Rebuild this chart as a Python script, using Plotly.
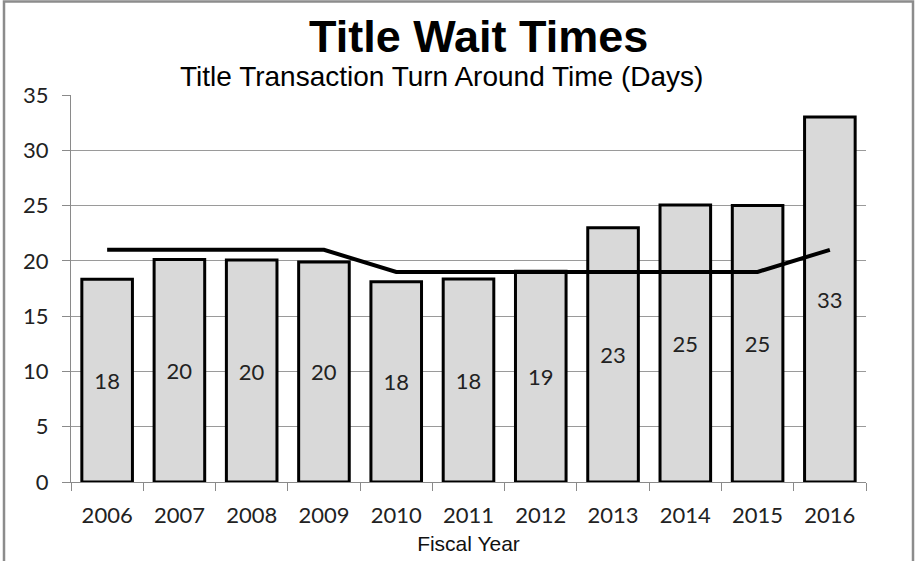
import plotly.graph_objects as go

years = ["2006", "2007", "2008", "2009", "2010", "2011", "2012", "2013", "2014", "2015", "2016"]
wait_days = [18.33, 20.13, 20.07, 19.9, 18.1, 18.35, 19.05, 23.0, 25.05, 25.0, 33.0]
goal_days = [21, 21, 21, 21, 19, 19, 19, 19, 19, 19, 21]
y_ticks = [0, 5, 10, 15, 20, 25, 30, 35]

title_text = "Title Wait Times"
subtitle_text = "Title Transaction Turn Around Time (Days)"
x_title = "Fiscal Year"

fig = go.Figure()
fig.add_trace(go.Bar(
    x=years, y=wait_days,
    marker=dict(color="#d9d9d9", line=dict(color="black", width=3)),
    texttemplate="%{y:.0f}", textposition="inside", insidetextanchor="middle",
    textfont=dict(family="Lato", size=22, color="#222222"),
    textangle=0, cliponaxis=False, hoverinfo="skip", showlegend=False,
))
fig.add_trace(go.Scatter(
    x=years, y=goal_days, mode="lines",
    line=dict(color="black", width=4), showlegend=False, hoverinfo="skip",
))

W, H = 917, 561
L, R, T, B = 71, 51, 95, 79
pw, ph = W - L - R, H - T - B

def px_x(p):
    return (p - L) / pw

def px_y(p):
    return (H - B - p) / ph

fig.update_layout(
    width=W, height=H,
    margin=dict(l=L, r=R, t=T, b=B, autoexpand=False),
    paper_bgcolor="white", plot_bgcolor="white",
    bargap=0.30,
    uniformtext=dict(minsize=10, mode="show"),
    xaxis=dict(
        type="category", showline=True, linecolor="#8a8a8a", linewidth=1,
        ticks="outside", tickson="boundaries", ticklen=8, tickcolor="#8a8a8a",
        tickfont=dict(family="Lato", size=22, color="#222222"),
        ticklabelstandoff=14, showgrid=False, automargin=False,
        title=dict(text=x_title, font=dict(family="Liberation Sans", size=21, color="#111111"), standoff=8),
    ),
    yaxis=dict(
        range=[0, 35], tickvals=y_ticks, showline=True, linecolor="#8a8a8a", linewidth=1,
        ticks="outside", ticklen=8, tickcolor="#8a8a8a",
        tickfont=dict(family="Lato", size=22, color="#222222"),
        ticklabelstandoff=9, automargin=False,
        showgrid=True, gridcolor="#9a9a9a", gridwidth=1, zeroline=False,
    ),
    annotations=[
        dict(text="<b>" + title_text + "</b>", xref="paper", yref="paper",
             x=px_x(478), y=px_y(36), xanchor="center", yanchor="middle", showarrow=False,
             font=dict(family="Liberation Sans", size=45, color="black")),
        dict(text=subtitle_text, xref="paper", yref="paper",
             x=px_x(441.5), y=px_y(77), xanchor="center", yanchor="middle", showarrow=False,
             font=dict(family="Liberation Sans", size=28, color="black")),
    ],
    shapes=[
        dict(type="rect", xref="paper", yref="paper",
             x0=px_x(4), x1=px_x(913), y0=px_y(620), y1=px_y(1.5),
             line=dict(color="#8c8c8c", width=2.5), fillcolor="rgba(0,0,0,0)", layer="above"),
    ],
)

fig.write_html("out.html")
